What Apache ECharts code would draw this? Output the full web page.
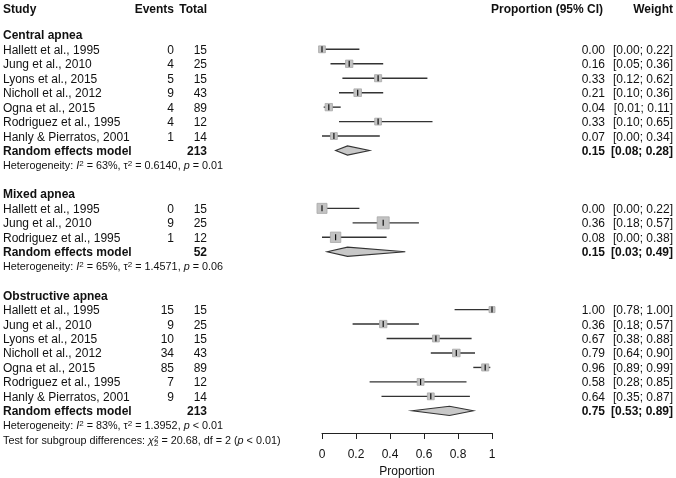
<!DOCTYPE html>
<html>
<head>
<meta charset="utf-8">
<script src="https://cdn.jsdelivr.net/npm/echarts@6/dist/echarts.min.js"></script>
<style>
html,body{margin:0;padding:0;background:#fff;}
#main{width:676px;height:478px;}
</style>
</head>
<body>
<div id="main"></div>
<script>
// ---------------- DATA ----------------
const groupNames = ['Central apnea', 'Mixed apnea', 'Obstructive apnea'];

const centralStudies = ['Hallett et al., 1995', 'Jung et al., 2010', 'Lyons et al., 2015', 'Nicholl et al., 2012', 'Ogna et al., 2015', 'Rodriguez et al., 1995', 'Hanly & Pierratos, 2001'];
const centralEvents = [0, 4, 5, 9, 4, 4, 1];
const centralTotal = [15, 25, 15, 43, 89, 12, 14];
const centralProp = [0.00, 0.16, 0.33, 0.21, 0.04, 0.33, 0.07];
const centralLower = [0.00, 0.05, 0.12, 0.10, 0.01, 0.10, 0.00];
const centralUpper = [0.22, 0.36, 0.62, 0.36, 0.11, 0.65, 0.34];
const centralWeight = [13, 15, 14, 16, 15, 13, 13];

const mixedStudies = ['Hallett et al., 1995', 'Jung et al., 2010', 'Rodriguez et al., 1995'];
const mixedEvents = [0, 9, 1];
const mixedTotal = [15, 25, 12];
const mixedProp = [0.00, 0.36, 0.08];
const mixedLower = [0.00, 0.18, 0.00];
const mixedUpper = [0.22, 0.57, 0.38];
const mixedWeight = [28, 40, 30];

const obstructiveStudies = ['Hallett et al., 1995', 'Jung et al., 2010', 'Lyons et al., 2015', 'Nicholl et al., 2012', 'Ogna et al., 2015', 'Rodriguez et al., 1995', 'Hanly & Pierratos, 2001'];
const obstructiveEvents = [15, 9, 10, 34, 85, 7, 9];
const obstructiveTotal = [15, 25, 15, 43, 89, 12, 14];
const obstructiveProp = [1.00, 0.36, 0.67, 0.79, 0.96, 0.58, 0.64];
const obstructiveLower = [0.78, 0.18, 0.38, 0.64, 0.89, 0.28, 0.35];
const obstructiveUpper = [1.00, 0.57, 0.88, 0.90, 0.99, 0.85, 0.87];
const obstructiveWeight = [10, 15, 13, 16, 14, 13, 13];

const pooledTotal = [213, 52, 213];
const pooledProp = [0.15, 0.15, 0.75];
const pooledLower = [0.08, 0.03, 0.53];
const pooledUpper = [0.28, 0.49, 0.89];

const hetI2 = ['63%', '65%', '83%'];
const hetTau2 = ['0.6140', '1.4571', '1.3952'];
const hetP = ['= 0.01', '= 0.06', '< 0.01'];

const subgroupChi2 = '20.68';
const subgroupDf = 2;
const subgroupP = '< 0.01';

const xTicks = [0, 0.2, 0.4, 0.6, 0.8, 1];

// ---------------- BUILD ROWS ----------------
const groups = [
  {studies: centralStudies, ev: centralEvents, tot: centralTotal, p: centralProp, lo: centralLower, hi: centralUpper, w: centralWeight},
  {studies: mixedStudies, ev: mixedEvents, tot: mixedTotal, p: mixedProp, lo: mixedLower, hi: mixedUpper, w: mixedWeight},
  {studies: obstructiveStudies, ev: obstructiveEvents, tot: obstructiveTotal, p: obstructiveProp, lo: obstructiveLower, hi: obstructiveUpper, w: obstructiveWeight}
];

const rows = [];
rows.push({k: -2.85, type: 'colheader'});
let k = -1;
groups.forEach((g, gi) => {
  rows.push({k: k, type: 'header', name: groupNames[gi]});
  k++;
  g.studies.forEach((s, i) => {
    rows.push({k: k, type: 'study', name: s, ev: g.ev[i], tot: g.tot[i], p: g.p[i], lo: g.lo[i], hi: g.hi[i], w: g.w[i]});
    k++;
  });
  rows.push({k: k, type: 'pooled', name: 'Random effects model', tot: pooledTotal[gi], p: pooledProp[gi], lo: pooledLower[gi], hi: pooledUpper[gi]});
  k++;
  rows.push({k: k, type: 'het', i2: hetI2[gi], tau2: hetTau2[gi], pv: hetP[gi]});
  k++;
  if (gi < groups.length - 1) k++;
});
rows.push({k: k, type: 'test'});

// ---------------- STYLE ----------------
const FONT = '"Liberation Sans", Arial, Helvetica, sans-serif';
const TXT = '#111';
const TEXT_DY = 1.2;
const X_NAME = 3, X_EV = 174, X_TOT = 207, X_EST = 605, X_CI = 673;
const SMALL = 10.8;

function txt(x, y, text, align, bold, size) {
  return {
    type: 'text',
    style: {
      x: x, y: y, text: text,
      fill: TXT,
      font: (bold ? 'bold ' : '') + (size || 12) + 'px ' + FONT,
      align: align, textAlign: align,
      verticalAlign: 'middle', textVerticalAlign: 'middle'
    }
  };
}

const richBase = {
  n: {fontSize: SMALL, fontFamily: FONT, color: TXT},
  i: {fontSize: SMALL, fontFamily: FONT, color: TXT, fontStyle: 'italic'},
  s: {fontSize: 8, fontFamily: FONT, color: TXT, verticalAlign: 'top', lineHeight: 13},
  s0: {fontSize: 8, fontFamily: FONT, color: TXT, verticalAlign: 'top', lineHeight: 13, width: 0},
  b: {fontSize: 8, fontFamily: FONT, color: TXT, verticalAlign: 'bottom', lineHeight: 13}
};

function richTxt(x, y, text) {
  return {
    type: 'text',
    style: {
      x: x, y: y, text: text, rich: richBase,
      fill: TXT, font: SMALL + 'px ' + FONT,
      align: 'left', textAlign: 'left',
      verticalAlign: 'middle', textVerticalAlign: 'middle'
    }
  };
}

function renderTable(params, api) {
  const r = rows[params.dataIndex];
  const y = api.coord([0, r.k])[1] + TEXT_DY;
  const c = [];
  if (r.type === 'colheader') {
    c.push(txt(X_NAME, y, 'Study', 'left', true));
    c.push(txt(X_EV, y, 'Events', 'right', true));
    c.push(txt(X_TOT, y, 'Total', 'right', true));
    c.push(txt(603, y, 'Proportion (95% CI)', 'right', true));
    c.push(txt(X_CI, y, 'Weight', 'right', true));
  } else if (r.type === 'header') {
    c.push(txt(X_NAME, y, r.name, 'left', true));
  } else if (r.type === 'study') {
    c.push(txt(X_NAME, y, r.name, 'left', false));
    c.push(txt(X_EV, y, String(r.ev), 'right', false));
    c.push(txt(X_TOT, y, String(r.tot), 'right', false));
    c.push(txt(X_EST, y, r.p.toFixed(2), 'right', false));
    c.push(txt(X_CI, y, '[' + r.lo.toFixed(2) + '; ' + r.hi.toFixed(2) + ']', 'right', false));
  } else if (r.type === 'pooled') {
    c.push(txt(X_NAME, y, r.name, 'left', true));
    c.push(txt(X_TOT, y, String(r.tot), 'right', true));
    c.push(txt(X_EST, y, r.p.toFixed(2), 'right', true));
    c.push(txt(X_CI, y, '[' + r.lo.toFixed(2) + '; ' + r.hi.toFixed(2) + ']', 'right', true));
  } else if (r.type === 'het') {
    c.push(richTxt(X_NAME, y, '{n|Heterogeneity: }{i|I}{s|2}{n| = ' + r.i2 + ', τ}{s|2}{n| = ' + r.tau2 + ', }{i|p}{n| ' + r.pv + '}'));
  } else if (r.type === 'test') {
    c.push(richTxt(X_NAME, y, '{n|Test for subgroup differences: }{i|χ}{s0|2}{b|' + subgroupDf + '}{n| = ' + subgroupChi2 + ', df = ' + subgroupDf + ' (}{i|p}{n| ' + subgroupP + ')}'));
  }
  return {type: 'group', children: c};
}

const studyRows = rows.filter(r => r.type === 'study');
const pooledRows = rows.filter(r => r.type === 'pooled');

function renderStudy(params, api) {
  const r = studyRows[params.dataIndex];
  const pl = api.coord([r.lo, r.k]);
  const ph = api.coord([r.hi, r.k]);
  const pe = api.coord([r.p, r.k]);
  const size = 1.9 * Math.sqrt(r.w);
  return {
    type: 'group',
    children: [
      {type: 'line', shape: {x1: pl[0], y1: pl[1], x2: ph[0], y2: ph[1]}, style: {stroke: '#333', lineWidth: 1.4}},
      {type: 'rect', shape: {x: pe[0] - size / 2, y: pe[1] - size / 2, width: size, height: size}, style: {fill: '#c3c3c3', stroke: '#a8a8a8', lineWidth: 0.8}},
      {type: 'line', shape: {x1: pe[0], y1: pe[1] - 3, x2: pe[0], y2: pe[1] + 3}, style: {stroke: '#111', lineWidth: 1.2}}
    ]
  };
}

function renderPooled(params, api) {
  const r = pooledRows[params.dataIndex];
  const pl = api.coord([r.lo, r.k]);
  const ph = api.coord([r.hi, r.k]);
  const pe = api.coord([r.p, r.k]);
  const h = 4.6;
  return {
    type: 'polygon',
    shape: {points: [[pl[0], pl[1]], [pe[0], pe[1] - h], [ph[0], ph[1]], [pe[0], pe[1] + h]]},
    style: {fill: '#c8c8c8', stroke: '#333', lineWidth: 1.1}
  };
}

// ---------------- CHART ----------------
const chart = echarts.init(document.getElementById('main'), null, {renderer: 'canvas'});
const option = {
  backgroundColor: '#fff',
  animation: false,
  grid: {left: 322, width: 170, top: 5.92, height: 427.1, containLabel: false, outerBoundsMode: 'none'},
  xAxis: {
    type: 'value', min: 0, max: 1, interval: 0.2, position: 'bottom',
    axisLine: {show: true, onZero: false, lineStyle: {color: '#222', width: 1}},
    axisTick: {show: true, length: 6, lineStyle: {color: '#222'}},
    splitLine: {show: false},
    axisLabel: {
      fontSize: 12, fontFamily: FONT, color: TXT, margin: 16,
      customValues: xTicks,
      formatter: v => String(+v.toFixed(1))
    },
    name: 'Proportion', nameLocation: 'middle', nameGap: 31,
    nameTextStyle: {fontSize: 12, fontFamily: FONT, color: TXT}
  },
  yAxis: {
    type: 'value', inverse: true, min: -3, max: 26.535, show: false
  },
  series: [
    {type: 'custom', clip: false, renderItem: renderStudy, data: studyRows.map(r => [r.p, r.k]), silent: true},
    {type: 'custom', clip: false, renderItem: renderPooled, data: pooledRows.map(r => [r.p, r.k]), silent: true},
    {type: 'custom', clip: false, renderItem: renderTable, data: rows.map(r => [0, r.k]), silent: true}
  ]
};
chart.setOption(option);
</script>
</body>
</html>
